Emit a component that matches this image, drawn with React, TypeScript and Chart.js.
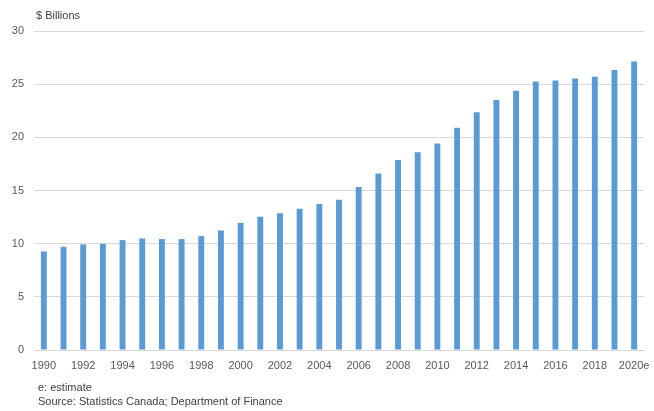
import React, { useEffect, useRef } from "react";
import { Chart, registerables } from "chart.js";

Chart.register(...registerables);

const years: string[] = [
  "1990", "1991", "1992", "1993", "1994", "1995", "1996", "1997", "1998", "1999",
  "2000", "2001", "2002", "2003", "2004", "2005", "2006", "2007", "2008", "2009",
  "2010", "2011", "2012", "2013", "2014", "2015", "2016", "2017", "2018", "2019",
  "2020e",
];

const values: number[] = [
  9.27, 9.71, 9.93, 9.99, 10.34, 10.49, 10.43, 10.43, 10.71, 11.24,
  11.96, 12.53, 12.87, 13.28, 13.72, 14.13, 15.32, 16.6, 17.86, 18.6,
  19.42, 20.89, 22.37, 23.52, 24.37, 25.24, 25.34, 25.53, 25.69, 26.34,
  27.12,
];

const yTicks: number[] = [0, 5, 10, 15, 20, 25, 30];

const unitLabel = "$ Billions";
const footnotes: string[] = ["e: estimate", "Source: Statistics Canada; Department of Finance"];

const FONT = "'Liberation Sans', Arial, sans-serif";

export default function App() {
  const ref = useRef<HTMLCanvasElement | null>(null);

  useEffect(() => {
    if (!ref.current) return;
    const textPlugin = {
      id: "texts",
      afterDraw(chart: any) {
        const ctx = chart.ctx;
        ctx.save();
        ctx.fillStyle = "#404040";
        ctx.font = `11px ${FONT}`;
        ctx.textAlign = "left";
        ctx.textBaseline = "middle";
        ctx.fillText(unitLabel, 36, 16);
        ctx.fillText(footnotes[0], 38, 387.5);
        ctx.fillText(footnotes[1], 38, 401.5);
        ctx.restore();
      },
    };
    const chart = new Chart(ref.current, {
      type: "bar",
      data: {
        labels: years,
        datasets: [
          {
            data: values,
            backgroundColor: "#5b9bd5",
            borderWidth: 0,
            barPercentage: 0.6,
            categoryPercentage: 0.5,
          },
        ],
      },
      options: {
        responsive: false,
        animation: false,
        layout: { padding: { top: 31, right: 10, left: 0, bottom: 0 } },
        plugins: {
          legend: { display: false },
          tooltip: { enabled: false },
        },
        scales: {
          x: {
            grid: { display: false, drawTicks: false },
            border: { display: true, color: "#d9d9d9" },
            ticks: {
              autoSkip: false,
              maxRotation: 0,
              minRotation: 0,
              padding: 9,
              color: "#595959",
              font: { family: FONT, size: 11 },
              callback: (_v: any, i: number) => (i % 2 === 0 ? years[i] : ""),
            },
            afterFit: (s: any) => {
              s.height = 61;
              s.paddingLeft = 0;
              s.paddingRight = 0;
            },
          },
          y: {
            min: 0,
            max: 30,
            afterBuildTicks: (s: any) => {
              s.ticks = yTicks.map((v) => ({ value: v }));
            },
            grid: { color: "#d9d9d9", drawTicks: false },
            border: { display: false },
            ticks: {
              padding: 10,
              color: "#595959",
              font: { family: FONT, size: 11 },
            },
            afterFit: (s: any) => {
              s.width = 34;
            },
          },
        },
      },
      plugins: [textPlugin],
    });
    return () => chart.destroy();
  }, []);

  return (
    <div style={{ position: "fixed", left: 0, top: 0, width: 654, height: 411, background: "#fff" }}>
      <canvas ref={ref} width={654} height={411} />
    </div>
  );
}
